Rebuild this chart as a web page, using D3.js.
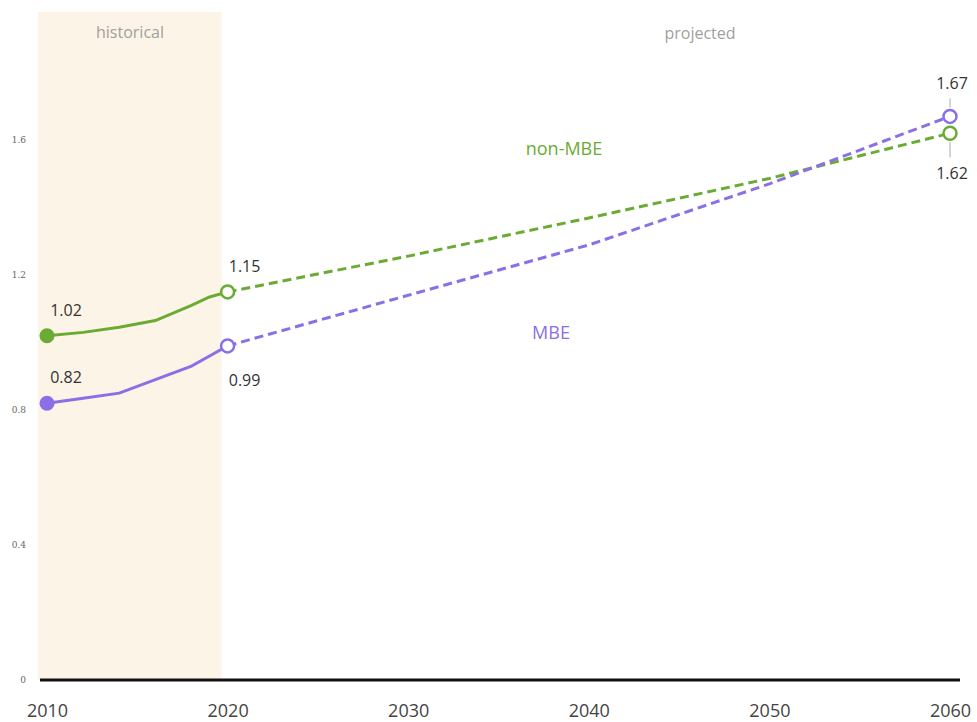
<!DOCTYPE html>
<html>
<head>
<meta charset="utf-8">
<script src="https://cdn.jsdelivr.net/npm/d3@7"></script>
<style>
  body { margin: 0; background: #fff; }
  svg { font-family: "Open Sans", "Noto Sans", sans-serif; }
</style>
</head>
<body>
<div id="container"></div>
<script>
const WIDTH = 977;
const HEIGHT = 722;

// data
const yearTicks = [2010, 2020, 2030, 2040, 2050, 2060];
const valueTicks = [0, 0.4, 0.8, 1.2, 1.6];

const histYears = [2010, 2012, 2014, 2016, 2018, 2019, 2020];
const nonMbeHist = [1.02, 1.03, 1.045, 1.065, 1.11, 1.135, 1.15];
const mbeHist = [0.82, 0.835, 0.85, 0.89, 0.93, 0.96, 0.99];

const projYears = [2020, 2030, 2040, 2050, 2060];
const nonMbeProj = [1.15, 1.256, 1.369, 1.486, 1.62];
const mbeProj = [0.99, 1.14, 1.289, 1.47, 1.67];

const GREEN = '#6aab34';
const PURPLE = '#8b6fe6';

const x = d3.scaleLinear().domain([2010, 2060]).range([47, 950]);
const y = d3.scaleLinear().domain([0, 1.6]).range([680, 140]);

const svg = d3.select('#container')
              .append('svg')
                .attr('width', WIDTH)
                .attr('height', HEIGHT);

// historical band
svg.append('rect')
   .attr('x', 38)
   .attr('y', 12)
   .attr('width', x(2020) - 6 - 38)
   .attr('height', y(0) - 12)
   .attr('fill', '#fdf4e8');

svg.append('text')
   .attr('x', 130).attr('y', 38)
   .attr('text-anchor', 'middle')
   .attr('font-size', 16)
   .attr('fill', '#a0a0a0')
   .text('historical');

svg.append('text')
   .attr('x', 700).attr('y', 39)
   .attr('text-anchor', 'middle')
   .attr('font-size', 16)
   .attr('fill', '#a0a0a0')
   .text('projected');

// y axis (labels only)
const yAxis = svg.append('g')
                 .attr('transform', 'translate(26, 0)')
                 .call(d3.axisLeft(y).tickValues(valueTicks).tickSize(0).tickPadding(0)
                         .tickFormat(d => d === 0 ? '0' : d3.format('.1f')(d)));
yAxis.select('.domain').remove();
yAxis.selectAll('text')
     .attr('font-size', 9)
     .attr('fill', '#666')
     .attr('font-family', '"DejaVu Serif", serif');

// x axis
const xAxis = svg.append('g')
                 .attr('transform', `translate(0, ${y(0)})`)
                 .call(d3.axisBottom(x).tickValues(yearTicks).tickSize(0).tickPadding(24)
                         .tickFormat(d3.format('d')));
xAxis.select('.domain').remove();
xAxis.selectAll('text')
     .attr('font-size', 18)
     .attr('fill', '#444')
     .attr('font-family', '"Open Sans", sans-serif');

svg.append('line')
   .attr('x1', 40).attr('x2', 960)
   .attr('y1', y(0)).attr('y2', y(0))
   .attr('stroke', '#111')
   .attr('stroke-width', 3);

const line = d3.line()
               .x(d => x(d[0]))
               .y(d => y(d[1]));

const series = [
  { name: 'non-MBE', color: GREEN, hist: nonMbeHist, proj: nonMbeProj },
  { name: 'MBE', color: PURPLE, hist: mbeHist, proj: mbeProj }
];

series.forEach(s => {
  svg.append('path')
     .datum(histYears.map((yr, i) => [yr, s.hist[i]]))
     .attr('d', line)
     .attr('fill', 'none')
     .attr('stroke', s.color)
     .attr('stroke-width', 3);

  svg.append('path')
     .datum(projYears.map((yr, i) => [yr, s.proj[i]]))
     .attr('d', line)
     .attr('fill', 'none')
     .attr('stroke', s.color)
     .attr('stroke-width', 3)
     .attr('stroke-dasharray', '9,5');

  svg.append('circle')
     .attr('cx', x(histYears[0]))
     .attr('cy', y(s.hist[0]))
     .attr('r', 7.5)
     .attr('fill', s.color);

  // open markers at start and end of the projection
  [0, projYears.length - 1].forEach(i => {
    svg.append('circle')
       .attr('cx', x(projYears[i]))
       .attr('cy', y(s.proj[i]))
       .attr('r', 6.5)
       .attr('fill', '#fff')
       .attr('stroke', s.color)
       .attr('stroke-width', 2.5);
  });
});

const last = projYears.length - 1;

// value labels
const valueLabels = [
  { year: 2010, v: nonMbeHist[0], dx: 19, dy: -20 },
  { year: 2010, v: mbeHist[0], dx: 19, dy: -20 },
  { year: 2020, v: nonMbeProj[0], dx: 17, dy: -20 },
  { year: 2020, v: mbeProj[0], dx: 17, dy: 40 },
  { year: 2060, v: mbeProj[last], dx: 2, dy: -27 },
  { year: 2060, v: nonMbeProj[last], dx: 2, dy: 46 }
];

svg.selectAll('.val')
   .data(valueLabels)
   .enter()
   .append('text')
     .attr('class', 'val')
     .attr('x', d => x(d.year) + d.dx)
     .attr('y', d => y(d.v) + d.dy)
     .attr('text-anchor', 'middle')
     .attr('font-size', 16)
     .attr('fill', '#333')
     .text(d => d3.format('.2f')(d.v));

// leader ticks at 2060
svg.append('line')
   .attr('x1', x(2060)).attr('x2', x(2060))
   .attr('y1', y(mbeProj[last]) - 18).attr('y2', y(mbeProj[last]) - 9)
   .attr('stroke', '#aaa').attr('stroke-width', 1);
svg.append('line')
   .attr('x1', x(2060)).attr('x2', x(2060))
   .attr('y1', y(nonMbeProj[last]) + 9).attr('y2', y(nonMbeProj[last]) + 24)
   .attr('stroke', '#aaa').attr('stroke-width', 1);

// series names
svg.append('text')
   .attr('x', 564).attr('y', 155)
   .attr('text-anchor', 'middle')
   .attr('font-size', 18)
   .attr('fill', GREEN)
   .text('non-MBE');

svg.append('text')
   .attr('x', 551).attr('y', 339)
   .attr('text-anchor', 'middle')
   .attr('font-size', 18)
   .attr('fill', PURPLE)
   .text('MBE');
</script>
</body>
</html>
